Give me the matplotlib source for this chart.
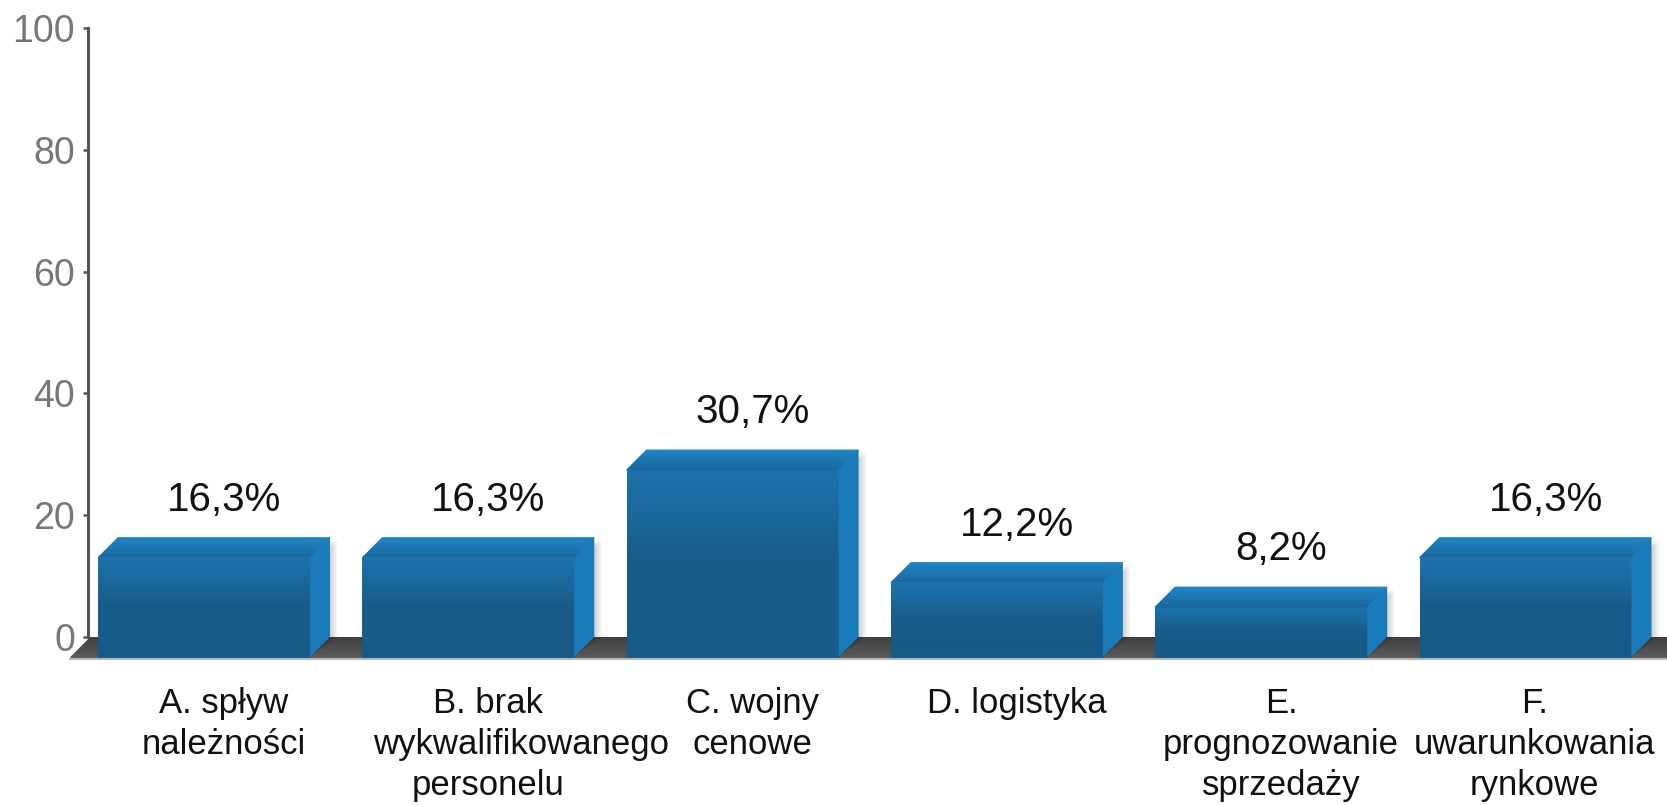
import matplotlib
matplotlib.use('Agg')
import matplotlib.pyplot as plt
import numpy as np
from matplotlib.patches import Polygon
from matplotlib.colors import to_rgb

# Data
categories = [
    ['A. spływ', 'należności'],
    ['B. brak', 'wykwalifikowanego', 'personelu'],
    ['C. wojny', 'cenowe'],
    ['D. logistyka'],
    ['E.', 'prognozowanie', 'sprzedaży'],
    ['F.', 'uwarunkowania', 'rynkowe'],
]
shares = [16.3, 16.3, 30.7, 12.2, 8.2, 16.3]
value_labels = ['16,3%', '16,3%', '30,7%', '12,2%', '8,2%', '16,3%']
y_ticks = [0, 20, 40, 60, 80, 100]

# Look
W, H = 1667, 805
DEPTH_PX = 20
BAR_HALF = 0.401
FRONT_LIGHT = '#1c72ad'
FRONT_DARK = '#185b88'
TOP_FRONT = '#1a679c'
TOP_BACK = '#1e82c2'
SIDE = '#1a7bba'
FLOOR_BACK = '#3f3f3f'
FLOOR_FRONT = '#5a5a5a'

plt.rcParams['font.family'] = ['Liberation Sans', 'DejaVu Sans']


def mix(c1, c2, t):
    a, b = np.array(to_rgb(c1)), np.array(to_rgb(c2))
    return tuple(a + (b - a) * t)


def strip(ax, pts, color, z):
    # ec = fc so neighbouring strips leave no seams
    ax.add_patch(Polygon(pts, closed=True, fc=color, ec=color, lw=0.7,
                         clip_on=False, zorder=z))


fig = plt.figure(figsize=(W / 100, H / 100), dpi=100)
ax = fig.add_axes([88 / W, (H - 637) / H, (W - 88) / W, (637 - 28) / H])
ax.set_xlim(-(224 - 88) / 264.3, (W - 224) / 264.3)
ax.set_ylim(0, 100)

# pixel -> data conversion for the fake depth
xl = ax.get_xlim()
px_x = ax.bbox.width / (xl[1] - xl[0])
px_y = ax.bbox.height / 100.0
DX = DEPTH_PX / px_x
DY = DEPTH_PX / px_y

# floor slab
fl, fr = xl[0] + 2 / px_x, xl[1] + 1
n = 12
for k in range(n):
    t0, t1 = k / n, (k + 1) / n
    pts = [(fl - DX * t0, -DY * t0), (fr, -DY * t0), (fr, -DY * t1), (fl - DX * t1, -DY * t1)]
    strip(ax, pts, mix(FLOOR_BACK, FLOOR_FRONT, (t0 + t1) / 2), 1)
ax.plot([fl - DX, fr], [-DY - 1.5 / px_y] * 2, color='#b8b8b8', lw=1.5,
        clip_on=False, zorder=1)

# bars
for i, v in enumerate(shares):
    x0, x1 = i - BAR_HALF, i + BAR_HALF

    # soft shadow right of the bar
    for s in range(5):
        off = (s + 1) * 1.5 / px_x
        ax.add_patch(Polygon([(x1 - DX, -DY), (x1 + off, 0), (x1 + off, v - 0.5),
                              (x1 - DX + off, v - DY)], closed=True, fc='black',
                             alpha=0.035, ec='none', clip_on=False, zorder=2))

    # front face, gradient top -> bottom
    ns = 60
    for k in range(ns):
        ya = v - DY - v * k / ns
        yb = v - DY - v * (k + 1) / ns
        t = min((k + 0.5) / ns / 0.5, 1.0)
        strip(ax, [(x0 - DX, yb), (x1 - DX, yb), (x1 - DX, ya), (x0 - DX, ya)],
              mix(FRONT_LIGHT, FRONT_DARK, t), 3)

    # top face, gradient front -> back
    nt = 12
    for k in range(nt):
        t0, t1 = k / nt, (k + 1) / nt
        pts = [(x0 - DX * (1 - t0), v - DY * (1 - t0)), (x1 - DX * (1 - t0), v - DY * (1 - t0)),
               (x1 - DX * (1 - t1), v - DY * (1 - t1)), (x0 - DX * (1 - t1), v - DY * (1 - t1))]
        strip(ax, pts, mix(TOP_FRONT, TOP_BACK, (t0 + t1) / 2), 3)

    # right side face
    ax.add_patch(Polygon([(x1 - DX, -DY), (x1, 0), (x1, v), (x1 - DX, v - DY)], closed=True,
                         fc=SIDE, ec='none', clip_on=False, zorder=4))

    ax.annotate(value_labels[i], (i, v), xytext=(0, 19.5), textcoords='offset points',
                ha='center', va='baseline', fontsize=29, color='#111111', zorder=5)

# category labels, one line at a time
renderer = fig.canvas.get_renderer()
slot_px = px_x
for i, lines in enumerate(categories):
    texts = []
    for j, line in enumerate(lines):
        dy_pt = -(76 + 41 * j) * 0.72
        t = ax.annotate(line, (i, 0), xytext=(0, dy_pt), textcoords='offset points',
                        ha='center', va='baseline', fontsize=25, color='#111111',
                        annotation_clip=False)
        if t.get_window_extent(renderer).width > slot_px:
            # too wide for the slot: start at slot's left edge instead
            t.set_horizontalalignment('left')
            t.xyann = (-(slot_px / 2 - 17) * 0.72, dy_pt)
        texts.append(t)
    # keep the label inside the figure
    over = max(t.get_window_extent(renderer).x1 for t in texts) - (W - 12)
    if over > 0:
        for t in texts:
            t.xyann = (t.xyann[0] - over * 0.72, t.xyann[1])

# axes styling
for side in ['top', 'right', 'bottom']:
    ax.spines[side].set_visible(False)
ax.spines['left'].set_color('#555555')
ax.spines['left'].set_linewidth(2.2)
ax.set_xticks([])
ax.set_yticks(y_ticks)
ax.tick_params(axis='y', length=3.8, width=1.8, color='#555555', pad=5.5,
               labelsize=27, labelcolor='#777777')

fig.savefig('out.png', dpi=100)
